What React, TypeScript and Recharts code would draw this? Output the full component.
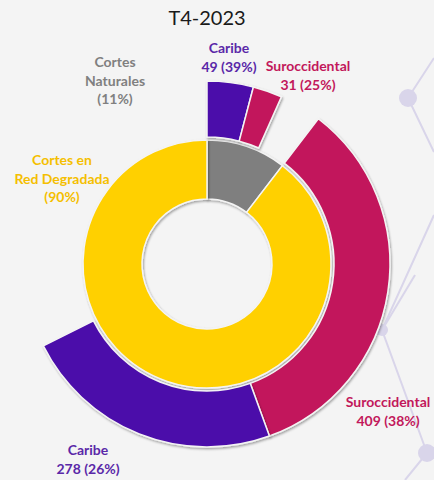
import { PieChart, Pie, Cell } from "recharts";

// inner ring: type of outage
const causes = ["Cortes Naturales", "Cortes en Red Degradada"];
const causeValues = [125, 1076];
const causeColors = ["#7f7f7f", "#ffd000"];

// outer ring: region split inside each cause (blank = rest not shown)
const regions = ["Caribe", "Suroccidental", "", "Suroccidental", "Caribe", ""];
const regionValues = [49, 31, 45, 409, 278, 389];
const regionColors = ["#4c0caa", "#c2185b", "none", "#c2185b", "#4c0caa", "none"];

const innerData = causes.map((name, i) => ({ name, value: causeValues[i] }));
const outerData = regions.map((name, i) => ({ name, value: regionValues[i] }));

const labels = [
  { lines: ["Cortes", "Naturales", "(11%)"], x: 115, y: 67, color: "#808080" },
  { lines: ["Caribe", "49 (39%)"], x: 229, y: 53, color: "#5a28a8" },
  { lines: ["Suroccidental", "31 (25%)"], x: 308, y: 71, color: "#c2185b" },
  { lines: ["Cortes en", "Red Degradada", "(90%)"], x: 62, y: 165, color: "#f5bf00" },
  { lines: ["Suroccidental", "409 (38%)"], x: 388, y: 407, color: "#c2185b" },
  { lines: ["Caribe", "278 (26%)"], x: 88, y: 455, color: "#5a28a8" },
];

const font = "Lato, 'Open Sans', sans-serif";

export default function App() {
  return (
    <div style={{ position: "absolute", left: 0, top: 0, width: 434, height: 480, background: "#f4f4f4", overflow: "hidden" }}>
      <svg width={434} height={480} style={{ position: "absolute", left: 0, top: 0 }}>
        <g stroke="#d9d5ea" strokeWidth={2} fill="none">
          <polyline points="434,58 408,98 434,152" />
          <polyline points="434,215 382,330 427,453 405,480" />
          <line x1={382} y1={330} x2={415} y2={275} />
        </g>
        <g fill="#d9d5ea">
          <circle cx={408} cy={98} r={9} />
          <circle cx={382} cy={330} r={6} />
          <circle cx={427} cy={453} r={9} />
        </g>
      </svg>
      <div style={{ position: "absolute", left: 0, top: 0 }}>
        <PieChart width={434} height={480} margin={{ top: 0, right: 0, bottom: 0, left: 0 }}>
          <defs>
            <filter id="shade" x="-20%" y="-20%" width="140%" height="140%">
              <feDropShadow dx="1" dy="1.5" stdDeviation="1.2" floodColor="#000" floodOpacity="0.35" />
            </filter>
          </defs>
          <Pie
            data={innerData}
            dataKey="value"
            cx={207}
            cy={264}
            innerRadius={65}
            outerRadius={124}
            startAngle={90}
            endAngle={-270}
            stroke="#f4f4f4"
            strokeWidth={1.5}
            isAnimationActive={false}
            style={{ filter: "url(#shade)" }}
          >
            {innerData.map((d, i) => (
              <Cell key={d.name} fill={causeColors[i]} />
            ))}
          </Pie>
          <Pie
            data={outerData}
            dataKey="value"
            cx={207}
            cy={264}
            innerRadius={127}
            outerRadius={183}
            startAngle={90}
            endAngle={-270}
            isAnimationActive={false}
            style={{ filter: "url(#shade)" }}
          >
            {outerData.map((d, i) => (
              <Cell
                key={i}
                fill={regionColors[i]}
                stroke={regionColors[i] === "none" ? "none" : "#f4f4f4"}
                strokeWidth={1.5}
              />
            ))}
          </Pie>
        </PieChart>
      </div>
      <svg width={434} height={480} style={{ position: "absolute", left: 0, top: 0, pointerEvents: "none" }}>
        <text x={207} y={25} textAnchor="middle" fontFamily={font} fontSize={20} fill="#1a1a1a">
          T4-2023
        </text>
        {labels.map((l, i) => (
          <text key={i} x={l.x} y={l.y} textAnchor="middle" fontFamily={font} fontWeight={700} fontSize={14} fill={l.color}>
            {l.lines.map((t, j) => (
              <tspan key={j} x={l.x} dy={j === 0 ? 0 : 18.5}>
                {t}
              </tspan>
            ))}
          </text>
        ))}
      </svg>
    </div>
  );
}
